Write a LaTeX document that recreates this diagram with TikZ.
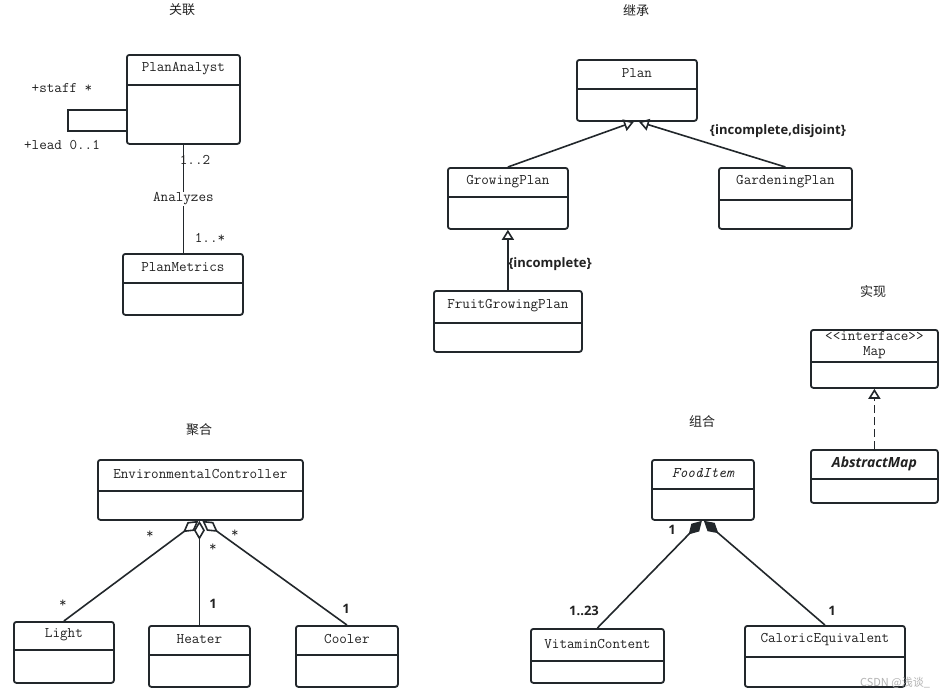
\documentclass[tikz,border=0pt]{standalone}
\usepackage{fontspec}
\usepackage{tikz}
\usetikzlibrary{positioning}
\usetikzlibrary{arrows.meta}
\newfontfamily\labf{Open Sans}
\newfontfamily\cjkf{Noto Sans CJK SC}
\definecolor{umlline}{HTML}{22272B}
\definecolor{umltext}{HTML}{222222}
\tikzset{
  cls/.style={draw=umlline, line width=1.8pt, rounded corners=2.5pt, anchor=north west, inner sep=0pt},
  divline/.style={draw=umlline, line width=1.8pt},
  mono/.style={font=\ttfamily\fontsize{14.7}{16}\selectfont, text=umltext, inner sep=1pt},
  lab/.style={font=\labf\bfseries\fontsize{13}{15}\selectfont, text=umltext, inner sep=1pt},
  heading/.style={font=\cjkf\fontsize{13}{15}\selectfont, text=umltext},
  assoc/.style={draw=umlline, line width=1.6pt},
  inherit/.style={assoc, -{Triangle[open, length=10pt, width=12pt]}},
  realize/.style={inherit, dash pattern=on 8pt off 4pt},
  aggr/.style={assoc, -{Diamond[open, length=19pt, width=11pt]}},
  compo/.style={assoc, -{Diamond[length=19pt, width=11pt]}},
}
\begin{document}
\begin{tikzpicture}[x=1pt, y=-1pt]
\fill[white] (0,0) rectangle (951,699);
\useasboundingbox (0,0) rectangle (951,699);

\node[heading] (assocT) at (182,10) {关联};
\node[heading] (inheritT) at (636,10) {继承};
\node[heading] (realizeT) at (873,292) {实现};
\node[heading] (aggrT) at (199,430) {聚合};
\node[heading] (compoT) at (702,422) {组合};

\node[cls, minimum width=113pt, minimum height=89pt] (analyst) at (126,54) {};
\draw[divline] ([yshift=-31pt]analyst.north west) -- ([yshift=-31pt]analyst.north east);
\node[mono] (analystT) at ([yshift=-15pt]analyst.north) {PlanAnalyst};

\node[cls, minimum width=120pt, minimum height=61pt] (metrics) at (122,253) {};
\draw[divline] ([yshift=-30pt]metrics.north west) -- ([yshift=-30pt]metrics.north east);
\node[mono] (metricsT) at ([yshift=-14pt]metrics.north) {PlanMetrics};

\coordinate (loopA) at (68,110);
\coordinate (loopB) at (68,131);
\draw[assoc] (analyst.west |- loopA) -- (loopA) -- (loopB) -- (analyst.west |- loopB);
\node[mono] (staff) at (62,88) {+staff *};
\node[mono] (lead) at (62,145) {+lead 0..1};
\draw[assoc] (analyst.south) -- node[mono, fill=white] (analyzes) {Analyzes} (analyst.south |- metrics.north);
\node[mono] (multA) at (195,160) {1..2};
\node[mono] (multB) at (210,238) {1..*};

\node[cls, minimum width=120pt, minimum height=61pt] (plan) at (576,59) {};
\draw[divline] ([yshift=-30pt]plan.north west) -- ([yshift=-30pt]plan.north east);
\node[mono] (planT) at ([yshift=-14pt]plan.north) {Plan};

\node[cls, minimum width=120pt, minimum height=61pt] (growing) at (447,167) {};
\draw[divline] ([yshift=-30pt]growing.north west) -- ([yshift=-30pt]growing.north east);
\node[mono] (growingT) at ([yshift=-15pt]growing.north) {GrowingPlan};

\node[cls, minimum width=133pt, minimum height=61pt] (gardening) at (718,167) {};
\draw[divline] ([yshift=-33pt]gardening.north west) -- ([yshift=-33pt]gardening.north east);
\node[mono] (gardeningT) at ([yshift=-15pt]gardening.north) {GardeningPlan};

\node[cls, minimum width=148pt, minimum height=61pt] (fruit) at (433,290) {};
\draw[divline] ([yshift=-33pt]fruit.north west) -- ([yshift=-33pt]fruit.north east);
\node[mono] (fruitT) at ([yshift=-16pt]fruit.north) {FruitGrowingPlan};

\draw[inherit] (growing.north) -- ([xshift=-3pt]plan.south);
\draw[inherit] (gardening.north) -- ([xshift=2pt]plan.south);
\draw[inherit] (fruit.north) -- (fruit.north |- growing.south);
\node[lab] (disjoint) at (778,131) {\{incomplete,disjoint\}};
\node[lab] (incomplete) at (550,264) {\{incomplete\}};

\node[cls, minimum width=127pt, minimum height=58pt] (map) at (810,329) {};
\draw[divline] ([yshift=-33pt]map.north west) -- ([yshift=-33pt]map.north east);
\node[mono, align=center] (mapT) at ([yshift=-16pt]map.north) {<<interface>>\\[-1pt]Map};

\node[cls, minimum width=127pt, minimum height=53pt] (absmap) at (810,449) {};
\draw[divline] ([yshift=-30pt]absmap.north west) -- ([yshift=-30pt]absmap.north east);
\node[lab, font=\labf\bfseries\itshape\fontsize{14}{16}\selectfont] (absmapT) at ([yshift=-15pt]absmap.north) {AbstractMap};
\draw[realize] (absmap.north) -- (map.south);

\node[cls, minimum width=205pt, minimum height=60pt] (env) at (97,459) {};
\draw[divline] ([yshift=-32pt]env.north west) -- ([yshift=-32pt]env.north east);
\node[mono] (envT) at ([yshift=-15pt]env.north) {EnvironmentalController};

\node[cls, minimum width=100pt, minimum height=61pt] (light) at (13,621) {};
\draw[divline] ([yshift=-29pt]light.north west) -- ([yshift=-29pt]light.north east);
\node[mono] (lightT) at ([yshift=-14pt]light.north) {Light};

\node[cls, minimum width=101pt, minimum height=61pt] (heater) at (148,625) {};
\draw[divline] ([yshift=-30pt]heater.north west) -- ([yshift=-30pt]heater.north east);
\node[mono] (heaterT) at ([yshift=-14pt]heater.north) {Heater};

\node[cls, minimum width=102pt, minimum height=61pt] (cooler) at (295,625) {};
\draw[divline] ([yshift=-30pt]cooler.north west) -- ([yshift=-30pt]cooler.north east);
\node[mono] (coolerT) at ([yshift=-14pt]cooler.north) {Cooler};

\draw[aggr] (light.north) -- ([xshift=-2pt]env.south);
\draw[aggr] (heater.north) -- (heater.north |- env.south);
\draw[aggr] (cooler.north) -- ([xshift=2pt]env.south);
\node[mono] (lightM) at (150,535) {*};
\node[mono] (heaterM) at (213,548) {*};
\node[mono] (coolerM) at (235,534) {*};
\node[mono] (lightN) at (63,604) {*};
\node[lab] (heaterN) at (213,604) {1};
\node[lab] (coolerN) at (346,609) {1};

\node[cls, minimum width=102pt, minimum height=60pt] (food) at (651,459) {};
\draw[divline] ([yshift=-30pt]food.north west) -- ([yshift=-30pt]food.north east);
\node[mono, font=\ttfamily\itshape\fontsize{14.7}{16}\selectfont] (foodT) at ([yshift=-14pt]food.north) {FoodItem};

\node[cls, minimum width=133pt, minimum height=54pt] (vitamin) at (530,628) {};
\draw[divline] ([yshift=-33pt]vitamin.north west) -- ([yshift=-33pt]vitamin.north east);
\node[mono] (vitaminT) at ([yshift=-16pt]vitamin.north) {VitaminContent};

\node[cls, minimum width=160pt, minimum height=61pt] (caloric) at (744,625) {};
\draw[divline] ([yshift=-32pt]caloric.north west) -- ([yshift=-32pt]caloric.north east);
\node[mono] (caloricT) at ([yshift=-15pt]caloric.north) {CaloricEquivalent};

\draw[compo] (vitamin.north) -- ([xshift=-1pt]food.south);
\draw[compo] (caloric.north) -- ([xshift=1pt]food.south);
\node[lab] (foodM) at (672,530) {1};
\node[lab] (vitaminM) at (584,611) {1..23};
\node[lab] (caloricM) at (832,611) {1};

\node[font=\cjkf\fontsize{11}{13}\selectfont, text=black!30] (mark) at (895,683) {CSDN @浅谈\_};
\end{tikzpicture}
\end{document}
